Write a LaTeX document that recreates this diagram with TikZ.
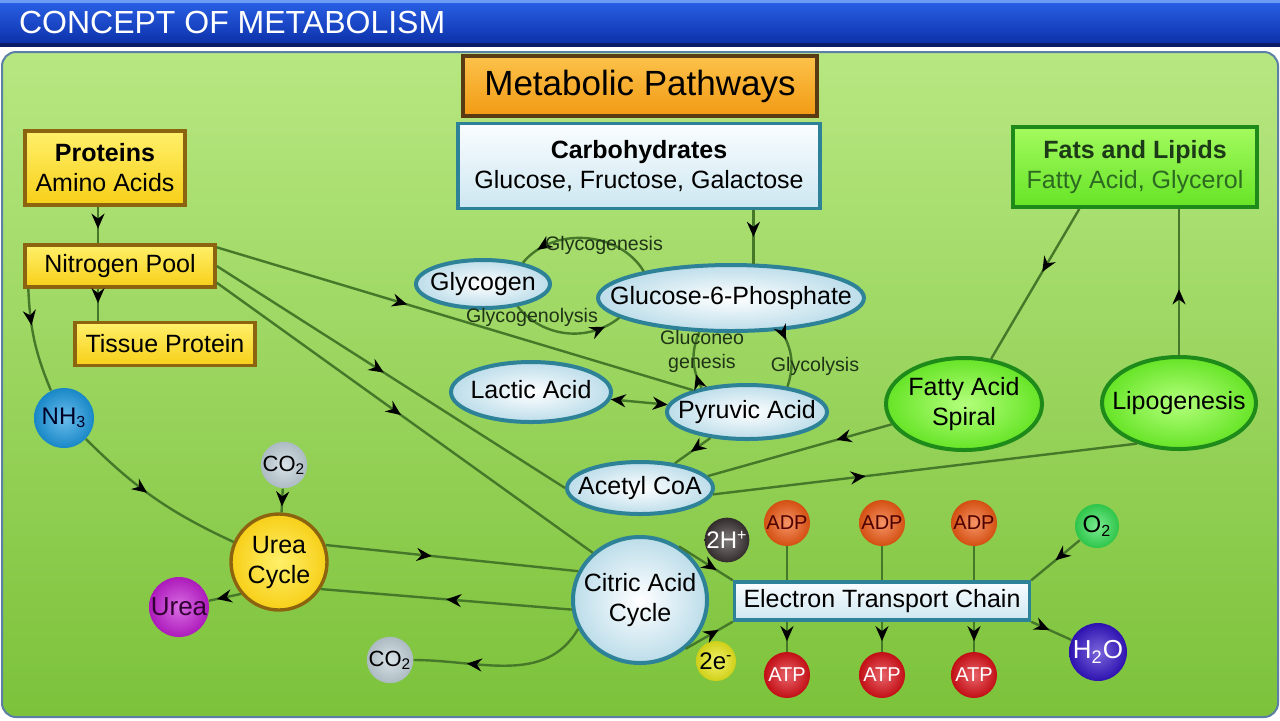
\documentclass[tikz,border=0pt]{standalone}
\usepackage{fontspec}
\setmainfont{Liberation Sans}
\usetikzlibrary{arrows.meta,positioning,shapes.geometric,decorations.markings,calc}
\definecolor{linegreen}{HTML}{46782A}
\definecolor{bannerhi}{HTML}{6C9CF4}
\definecolor{bannertop}{HTML}{2A62E8}
\definecolor{bannerbot}{HTML}{0B2EA6}
\definecolor{bannerline}{HTML}{0A1C66}
\definecolor{paneltop}{HTML}{B7E781}
\definecolor{panelbot}{HTML}{7CC23A}
\definecolor{panelborder}{HTML}{5B7FA6}
\definecolor{ytop}{HTML}{FFF06A}
\definecolor{ybot}{HTML}{F7CF18}
\definecolor{yborder}{HTML}{8C6410}
\definecolor{otop}{HTML}{FCC24A}
\definecolor{obot}{HTML}{F29A14}
\definecolor{oborder}{HTML}{5A3A12}
\definecolor{btop}{HTML}{FAFDFF}
\definecolor{bbot}{HTML}{CDE7F1}
\definecolor{ovalout}{HTML}{BCDDEA}
\definecolor{bborder}{HTML}{2E8298}
\definecolor{gtop}{HTML}{A4FA5E}
\definecolor{gbot}{HTML}{66E426}
\definecolor{ginner}{HTML}{B4FF7C}
\definecolor{gborder}{HTML}{1E8A1A}
\definecolor{ftext}{HTML}{1C3A18}
\definecolor{gtext}{HTML}{2C6A22}
\definecolor{labeltext}{HTML}{1F3316}
\definecolor{nhcol}{HTML}{1C9AE2}
\definecolor{cocol}{HTML}{C4D4DC}
\definecolor{ureacol}{HTML}{C41ED4}
\definecolor{hcol}{HTML}{3A3232}
\definecolor{ecol}{HTML}{ECEC1C}
\definecolor{adpcol}{HTML}{F05A14}
\definecolor{atpcol}{HTML}{DC1018}
\definecolor{ocol}{HTML}{34E054}
\definecolor{h2ocol}{HTML}{3414C8}
\def\mpfont{\fontsize{12.5}{15}\selectfont}
\def\mpsmall{\fontsize{9.8}{12}\selectfont}
\newcommand{\ctext}[1]{\makebox[0pt]{\begin{tabular}{@{}c@{}}#1\end{tabular}}}

\begin{document}
\begin{tikzpicture}[x=0.5pt,y=0.5pt,
    flow/.style={draw=linegreen,line width=1.2pt,postaction={decorate},
      decoration={markings,mark=at position #1 with {\arrow[black]{Stealth[length=7.5pt,width=6.5pt]}}}},
    flow/.default=0.5,
    biflow/.style={draw=linegreen,line width=1.2pt,
      {Stealth[length=7.5pt,width=6.5pt,color=black]}-{Stealth[length=7.5pt,width=6.5pt,color=black]}},
    sphere/.style={circle,inner sep=0pt,minimum size=23pt,font=\fontsize{12}{14}\selectfont,
      inner color=#1!65!white,outer color=#1!88!black}]
    \tikzstyle{box}=[rectangle,line width=1.7pt,align=center,inner sep=2pt,font=\mpfont]
    \tikzstyle{yellow box}=[box,draw=yborder,top color=ytop,bottom color=ybot]
    \tikzstyle{orange box}=[box,draw=oborder,top color=otop,bottom color=obot]
    \tikzstyle{blue box}=[box,draw=bborder,top color=btop,bottom color=bbot]
    \tikzstyle{green box}=[box,draw=gborder,line width=2pt,top color=gtop,bottom color=gbot]
    \tikzstyle{oval}=[ellipse,draw=bborder,line width=2pt,inner sep=0pt,inner color=white,outer color=ovalout,font=\mpfont]
    \tikzstyle{green oval}=[oval,draw=gborder,inner color=ginner,outer color=gbot]
    \tikzstyle{cycle}=[circle,draw=yborder,line width=1.7pt,inner sep=0pt,minimum size=48pt,inner color=ytop,outer color=ybot,font=\mpfont]
    \tikzstyle{lbl}=[inner sep=0pt,text=labeltext,font=\mpsmall]

    % Banner and panel
    \useasboundingbox (0,0) rectangle (1280,-720);
    \fill[white] (0,0) rectangle (1280,-720);
    \fill[top color=bannertop,bottom color=bannerbot] (0,0) rectangle (1280,-46);
    \fill[bannerhi] (0,0) rectangle (1280,-3);
    \fill[bannerline] (0,-43) rectangle (1280,-47);
    \draw[panelborder,line width=1pt,rounded corners=7pt,top color=paneltop,bottom color=panelbot] (2,-52) rectangle (1278,-717);
    \node[anchor=west,text=white,font=\fontsize{16}{18}\selectfont] (TITLE) at (12,-22) {CONCEPT OF METABOLISM};

    % Draw the boxes
    \node[orange box,minimum width=177pt,minimum height=30pt,font=\fontsize{17.5}{20}\selectfont] (MP) at (640,-86) {Metabolic Pathways};
    \node[blue box,minimum width=181pt,minimum height=42.5pt] (CARB) at (639,-166) {\textbf{Carbohydrates}\\Glucose, Fructose, Galactose};
    \node[yellow box,minimum width=80pt,minimum height=37pt] (PROT) at (105,-168) {\textbf{Proteins}\\Amino Acids};
    \node[green box,minimum width=122pt,minimum height=40pt,text=ftext] (FATS) at (1135,-167) {\textbf{Fats and Lipids}\\\textcolor{gtext}{Fatty Acid, Glycerol}};
    \node[yellow box,minimum width=95pt,minimum height=21pt] (NP) at (120,-266) {Nitrogen Pool};
    \node[yellow box,minimum width=90pt,minimum height=21.5pt] (TP) at (165,-344) {Tissue Protein};
    \node[blue box,minimum width=147.5pt,minimum height=19pt] (ETC) at (882,-601) {Electron Transport Chain};

    % Draw the ovals
    \node[oval,minimum width=67pt,minimum height=24pt] (GLY) at (483,-284) {\ctext{Glycogen}};
    \node[oval,minimum width=133pt,minimum height=33pt] (G6P) at (731,-298) {\ctext{Glucose-6-Phosphate}};
    \node[oval,minimum width=80pt,minimum height=30pt] (LA) at (531,-392) {\ctext{Lactic Acid}};
    \node[oval,minimum width=80pt,minimum height=27pt] (PA) at (747,-412) {\ctext{Pyruvic Acid}};
    \node[oval,minimum width=73pt,minimum height=26pt] (ACoA) at (640,-488) {\ctext{Acetyl CoA}};
    \node[oval,minimum width=67pt,minimum height=63pt] (CAC) at (640,-600) {\ctext{Citric Acid\\Cycle}};
    \node[green oval,minimum width=78pt,minimum height=46pt] (FAS) at (964,-404) {\ctext{Fatty Acid\\Spiral}};
    \node[green oval,minimum width=77pt,minimum height=46pt] (LIPO) at (1179,-403) {\ctext{Lipogenesis}};
    \node[cycle] (UC) at (279,-562) {\ctext{Urea\\Cycle}};

    % Draw the balls
    \node[sphere=nhcol,minimum size=30pt,text=black!85!blue] (NH3) at (64,-418) {NH\textsubscript{3}};
    \node[sphere=cocol,font=\fontsize{11}{13}\selectfont] (CO2a) at (284,-465) {CO\textsubscript{2}};
    \node[sphere=cocol,font=\fontsize{11}{13}\selectfont] (CO2b) at (390,-660) {CO\textsubscript{2}};
    \node[sphere=ureacol,minimum size=30pt,font=\fontsize{13}{15}\selectfont,text=violet!40!black] (UREA) at (179,-607) {Urea};
    \node[sphere=hcol,minimum size=21pt,text=white] (H2) at (727,-540) {2H\textsuperscript{+}};
    \node[sphere=ecol,minimum size=20pt] (E2) at (716,-661) {2e\textsuperscript{-}};
    \node[sphere=ocol,minimum size=22pt] (O2) at (1097,-526) {O\textsubscript{2}};
    \node[sphere=h2ocol,minimum size=29pt,font=\fontsize{13}{15}\selectfont,text=white] (H2O) at (1098,-652) {H\textsubscript{2}O};
    \foreach \x [count=\i] in {787,882,974} {
        \node[sphere=adpcol,font=\fontsize{10}{12}\selectfont,text=red!30!black] (ADP\i) at (\x,-523) {ADP};
        \node[sphere=atpcol,font=\fontsize{10}{12}\selectfont,text=white] (ATP\i) at (\x,-675) {ATP};
    }

    % Connect the protein side
    \draw[flow=0.6] ([xshift=-3.5pt]PROT.south) -- ([xshift=-3.5pt]PROT.south |- NP.north);
    \draw[flow=0.45] ([xshift=-11pt]NP.south) -- ([xshift=-11pt]NP.south |- TP.north);
    \draw[flow=0.35] ([xshift=2.5pt]NP.south west) to[bend right=10] (NH3);
    \draw[flow=0.45] (NH3) to[bend right=10] (UC);
    \draw[flow=0.4] ([yshift=-2pt]NP.north east) -- (PA.158);
    \draw[flow=0.48] (NP.east) -- (ACoA.west);
    \draw[flow=0.49] ([yshift=3pt]NP.south east) -- (CAC.135);

    % Connect the carbohydrate side
    \draw[flow=0.5] (CARB.south -| G6P.57) -- (G6P.57);
    \draw[flow=0.86] (G6P.163) to[bend right=55] (GLY.28);
    \draw[flow=0.85] (GLY.-33) to[bend right=45] (G6P.190);
    \draw[flow=0.25] (PA.152) to[bend left=25] (G6P.227);
    \draw[flow=0.18] (G6P.-33) to[bend left=25] (PA.32);
    \draw[biflow] (LA) -- (PA);
    \draw[flow=0.55] (PA) -- (ACoA);

    % Connect the lipid side
    \draw[flow=0.42] (FATS.217) -- (FAS.59);
    \draw[flow=0.45] (LIPO.north) -- (LIPO.north |- FATS.south);
    \draw[flow=0.3] (FAS) -- (ACoA.10);
    \draw[flow=0.36] (ACoA.-5) -- (LIPO.224);

    % Urea cycle and citric acid cycle
    \draw[flow=0.75] (CO2a) -- (UC);
    \draw[flow=0.75] (UC.220) -- (UREA);
    \draw[flow=0.42] (UC.20) -- (CAC.155);
    \draw[flow=0.5] (CAC.188) -- (UC.-33);
    \draw[flow=0.7] (CAC.205) to[out=240,in=0] (CO2b);
    \draw[flow=0.7] (CAC.54) -- (ETC.north west);
    \draw[flow=0.7] (CAC.-47) -- (ETC.south west);

    % Electron transport chain
    \foreach \i in {1,2,3} {
        \draw[linegreen,line width=1.2pt] (ADP\i) -- (ADP\i |- ETC.north);
        \draw[flow=0.65] (ADP\i |- ETC.south) -- (ATP\i);
    }
    \draw[flow=0.5] (O2) -- (ETC.north east);
    \draw[flow=0.45] (ETC.south east) -- (H2O);

    % Annotate the pathways
    \node[lbl] (LGG) at (604,-245) {Glycogenesis};
    \node[lbl] (LGL) at (532,-317) {Glycogenolysis};
    \node[lbl,align=center] (LGN) at (702,-351) {Gluconeo\\genesis};
    \node[lbl] (LGY) at (815,-366) {Glycolysis};
\end{tikzpicture}
\end{document}
